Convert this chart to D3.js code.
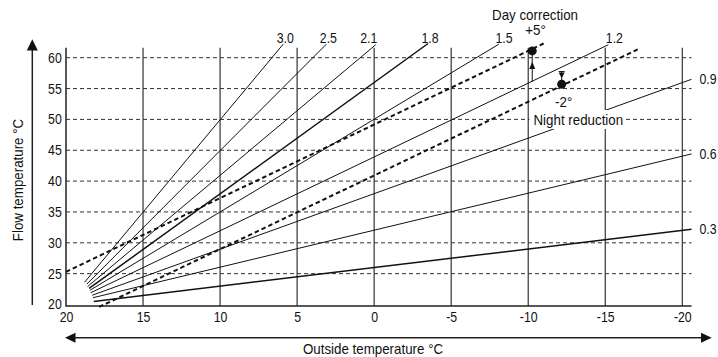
<!DOCTYPE html>
<html>
<head>
<meta charset="utf-8">
<script src="https://cdn.jsdelivr.net/npm/d3@7"></script>
<style>
  body { margin: 0; background: #fff; }
  svg { display: block; font-family: "Liberation Sans", Arial, sans-serif; }
</style>
</head>
<body>
<svg id="chart" width="718" height="357"></svg>
<script>
// axis ticks
const outsideTicks = [20, 15, 10, 5, 0, -5, -10, -15, -20];
const flowTicks = [20, 25, 30, 35, 40, 45, 50, 55, 60];

const curveNames = ["3.0", "2.5", "2.1", "1.8", "1.5", "1.2", "0.9", "0.6", "0.3"];
const curveStartOutside = [18.8, 18.65, 18.6, 18.5, 18.45, 18.4, 18.3, 18.25, 18.2];
const curveStartFlow = [23.6, 23.3, 22.9, 22.6, 22.3, 21.9, 21.5, 21.1, 20.5];
const curveEndOutside = [5.9, 3.1, -0.1, -3.5, -8.1, -15.2, -20.6, -20.6, -20.6];
const curveEndFlow = [62.2, 62.2, 62.1, 62.3, 62.2, 62.1, 56.5, 44.4, 32.2];

// shifted curves (day correction / night reduction)
const shiftNames = ["day", "night"];
const shiftStartOutside = [20, 17.85];
const shiftStartFlow = [25.3, 19.6];
const shiftEndOutside = [-11.0, -17.15];
const shiftEndFlow = [62.3, 61.4];
const shiftPointOutside = [-10.26, -12.17];
const shiftPointFlow = [61.1, 55.7];

const svg = d3.select("#chart");
const ink = "#111";
const wordScale = 0.92, digitScale = 0.88;   // the original type is a condensed face
const labelNudge = { "2.1": -9, "1.5": 3, "1.2": 4 };

const x = d3.scaleLinear().domain([20, -20]).range([66, 682.3]);
const y = d3.scaleLinear().domain([20, 60]).range([304.5, 57.7]);
const gridTop = 47.7, gridRight = 691.5, gridBottom = y(20) + 1.5;

function addText(g, px, py, str, anchor, size, sx) {
  return g.append("text")
    .attr("transform", `translate(${px},${py}) scale(${sx},1)`)
    .attr("text-anchor", anchor)
    .attr("font-size", size + "px")
    .attr("fill", ink)
    .text(str);
}

// horizontal dashed grid
svg.append("g")
  .selectAll("line")
  .data(flowTicks.filter(d => d > 20))
  .enter()
  .append("line")
  .attr("x1", x(20)).attr("x2", gridRight)
  .attr("y1", d => y(d)).attr("y2", d => y(d))
  .attr("stroke", "#333").attr("stroke-width", 1)
  .attr("stroke-dasharray", "4,3");

// vertical grid
svg.append("g")
  .selectAll("line")
  .data(outsideTicks.filter(d => d < 20))
  .enter()
  .append("line")
  .attr("x1", d => x(d)).attr("x2", d => x(d))
  .attr("y1", gridTop).attr("y2", gridBottom)
  .attr("stroke", "#333").attr("stroke-width", 1.2);

// frame (left + bottom)
svg.append("path")
  .attr("d", `M${x(20)},${gridTop}V${gridBottom}H${gridRight}`)
  .attr("fill", "none").attr("stroke", "#222").attr("stroke-width", 1.5);

// tick labels
const yAxis = svg.append("g")
  .attr("transform", `translate(${x(20)},0)`)
  .call(d3.axisLeft(y).tickValues(flowTicks).tickSize(0).tickPadding(4.8));
const xAxis = svg.append("g")
  .attr("transform", `translate(0,${y(20)})`)
  .call(d3.axisBottom(x).tickValues(outsideTicks).tickSize(0).tickPadding(7.6).tickFormat(d => String(d)));
[yAxis, xAxis].forEach(a => {
  a.select(".domain").remove();
  a.selectAll("text")
    .attr("font-family", null).attr("font-size", "14px").attr("fill", ink)
    .attr("transform", `scale(${digitScale},1)`);
});

// heating curves
svg.append("g")
  .selectAll("line")
  .data(curveNames)
  .enter()
  .append("line")
  .attr("x1", (d, i) => x(curveStartOutside[i]))
  .attr("y1", (d, i) => y(curveStartFlow[i]))
  .attr("x2", (d, i) => x(curveEndOutside[i]))
  .attr("y2", (d, i) => y(curveEndFlow[i]))
  .attr("stroke", ink)
  .attr("stroke-width", d => (d === "1.8" || d === "0.3") ? 1.5 : 1);

// curve labels: along the top, or right of the plot
svg.append("g")
  .selectAll("text")
  .data(curveNames)
  .enter()
  .append("text")
  .attr("transform", (d, i) => {
    const onTop = curveEndOutside[i] > -20;
    const px = onTop ? x(curveEndOutside[i]) + 2 + (labelNudge[d] || 0) : 699.5;
    const py = onTop ? 42.7 : y(curveEndFlow[i]) + 5;
    return `translate(${px},${py}) scale(${digitScale},1)`;
  })
  .attr("text-anchor", (d, i) => curveEndOutside[i] > -20 ? "middle" : "start")
  .attr("font-size", "14px").attr("fill", ink)
  .text(d => d);

// shifted curves
svg.append("g")
  .selectAll("line")
  .data(shiftNames)
  .enter()
  .append("line")
  .attr("x1", (d, i) => x(shiftStartOutside[i]))
  .attr("y1", (d, i) => y(shiftStartFlow[i]))
  .attr("x2", (d, i) => x(shiftEndOutside[i]))
  .attr("y2", (d, i) => y(shiftEndFlow[i]))
  .attr("stroke", ink).attr("stroke-width", 2)
  .attr("stroke-dasharray", "4.5,3");

svg.append("g")
  .selectAll("circle")
  .data(shiftNames)
  .enter()
  .append("circle")
  .attr("cx", (d, i) => x(shiftPointOutside[i]))
  .attr("cy", (d, i) => y(shiftPointFlow[i]))
  .attr("r", 4.5)
  .attr("fill", ink);

// day arrow (up)
const dx = x(shiftPointOutside[0]);
svg.append("line")
  .attr("x1", dx).attr("x2", dx)
  .attr("y1", y(56.1)).attr("y2", y(shiftPointFlow[0]))
  .attr("stroke", ink).attr("stroke-width", 1);
svg.append("path")
  .attr("d", `M${dx},${y(59.35)}L${dx - 3},${y(58.15)}L${dx + 3},${y(58.15)}Z`)
  .attr("fill", ink);

// night arrow (down)
const nx = x(shiftPointOutside[1]);
svg.append("line")
  .attr("x1", nx - 3).attr("x2", nx + 3)
  .attr("y1", y(57.75)).attr("y2", y(57.75))
  .attr("stroke", ink).attr("stroke-width", 1);
svg.append("line")
  .attr("x1", nx).attr("x2", nx)
  .attr("y1", y(57.75)).attr("y2", y(shiftPointFlow[1]))
  .attr("stroke", ink).attr("stroke-width", 1);
svg.append("path")
  .attr("d", `M${nx},${y(56.65)}L${nx - 3},${y(57.6)}L${nx + 3},${y(57.6)}Z`)
  .attr("fill", ink);

// annotations
svg.append("rect")
  .attr("x", 529.5).attr("y", 110).attr("width", 96.5).attr("height", 19)
  .attr("fill", "#fff");
const notes = svg.append("g");
addText(notes, 535, 19.5, "Day correction", "middle", 14.5, wordScale);
addText(notes, 535.5, 35, "+5°", "middle", 14.5, wordScale);
addText(notes, 563.7, 106.7, "-2°", "middle", 14.5, wordScale);
addText(notes, 578.3, 125, "Night reduction", "middle", 14.5, wordScale);

// axis arrows
svg.append("line").attr("x1", 32.3).attr("x2", 32.3).attr("y1", 305).attr("y2", 50)
  .attr("stroke", "#222").attr("stroke-width", 1.5);
svg.append("path").attr("d", "M32.3,39.3L26.8,50.5L37.8,50.5Z").attr("fill", ink);
svg.append("line").attr("x1", 75).attr("x2", 702).attr("y1", 337.7).attr("y2", 337.7)
  .attr("stroke", "#222").attr("stroke-width", 1.5);
svg.append("path").attr("d", "M65,337.7L75.5,332.7L75.5,342.7Z").attr("fill", ink);
svg.append("path").attr("d", "M711.7,337.7L701,332.7L701,342.7Z").attr("fill", ink);

// axis titles
svg.append("text")
  .attr("transform", `translate(23.3,180) rotate(-90) scale(${wordScale},1)`)
  .attr("text-anchor", "middle").attr("font-size", "14.5px").attr("fill", ink)
  .text("Flow temperature °C");
addText(svg, 373, 353.5, "Outside temperature °C", "middle", 14.5, wordScale);
</script>
</body>
</html>
